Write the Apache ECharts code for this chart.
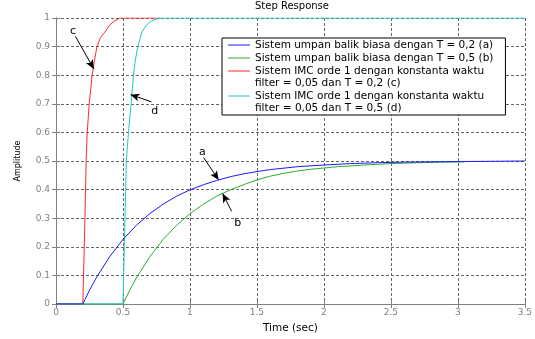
<!DOCTYPE html>
<html>
<head>
<meta charset="utf-8">
<script src="https://cdn.jsdelivr.net/npm/echarts@6/dist/echarts.min.js"></script>
<style>
html,body{margin:0;padding:0;background:#fff;}
#chart{width:535px;height:339px;}
</style>
</head>
<body>
<div id="chart"></div>
<script>
// ---- data ----
var nameA = 'Sistem umpan balik biasa dengan T = 0,2 (a)';
var nameB = 'Sistem umpan balik biasa dengan T = 0,5 (b)';
var nameC = 'Sistem IMC orde 1 dengan konstanta waktu\nfilter = 0,05 dan T = 0,2 (c)';
var nameD = 'Sistem IMC orde 1 dengan konstanta waktu\nfilter = 0,05 dan T = 0,5 (d)';

var timeA = [0, 0.2, 0.25, 0.3, 0.4, 0.5, 0.6, 0.7, 0.8, 0.9, 1.0, 1.1, 1.2, 1.3, 1.4, 1.5, 1.6, 1.8, 2.0, 2.2, 2.4, 2.6, 2.8, 3.0, 3.5];
var valA  = [0, 0, 0.048, 0.091, 0.165, 0.226, 0.275, 0.316, 0.349, 0.377, 0.399, 0.417, 0.432, 0.445, 0.455, 0.463, 0.470, 0.480, 0.486, 0.491, 0.494, 0.496, 0.497, 0.498, 0.5];

var timeB = [0, 0.5, 0.55, 0.6, 0.7, 0.8, 0.9, 1.0, 1.1, 1.2, 1.3, 1.4, 1.5, 1.6, 1.7, 1.8, 1.9, 2.1, 2.3, 2.5, 2.7, 2.9, 3.05];
var valB  = [0, 0, 0.048, 0.091, 0.165, 0.226, 0.275, 0.316, 0.349, 0.377, 0.399, 0.417, 0.434, 0.447, 0.457, 0.465, 0.471, 0.480, 0.486, 0.491, 0.494, 0.496, 0.497];

var timeC = [0, 0.2, 0.21, 0.22, 0.225, 0.233, 0.248, 0.27, 0.29, 0.306, 0.33, 0.364, 0.40, 0.438, 0.477, 0.78];
var valC  = [0, 0, 0.18, 0.38, 0.5, 0.6, 0.7, 0.8, 0.86, 0.9, 0.93, 0.95, 0.975, 0.99, 1.0, 1.0];

var timeD = [0, 0.5, 0.51, 0.52, 0.525, 0.541, 0.561, 0.578, 0.595, 0.611, 0.64, 0.675, 0.713, 0.76, 0.787, 3.5];
var valD  = [0, 0, 0.2, 0.4, 0.5, 0.6, 0.7, 0.8, 0.86, 0.9, 0.95, 0.975, 0.99, 0.998, 1.0, 1.0];

var xTicks = {min: 0, max: 3.5, interval: 0.5};
var yTicks = {min: 0, max: 1, interval: 0.1};

// annotations (data coordinates): letter, letter position, arrow start, arrow tip
var annLetters = ['a', 'b', 'c', 'd'];
var annText  = [[1.093, 0.531], [1.357, 0.281], [0.127, 0.953], [0.737, 0.674]];
var annStart = [[1.102, 0.512], [1.311, 0.324], [0.145, 0.936], [0.712, 0.707]];
var annTip   = [[1.214, 0.434], [1.244, 0.386], [0.282, 0.822], [0.557, 0.732]];

// ---- build chart ----
function pairs(t, v) { return t.map(function (x, i) { return [x, v[i]]; }); }

var FONT = 'DejaVu Sans';
var AXIS_GREY = '#808080';
var iconOne = 'path://M0,0H22V1H0Z';
var iconTwo = 'path://M0,0H22V1H0ZM0,13H0.01V13.01H0Z';

function lineSeries(name, data, color, z) {
  return {
    name: name, type: 'line', data: data, showSymbol: false, symbol: 'none',
    xAxisIndex: 0, yAxisIndex: 0, z: z,
    lineStyle: {color: color, width: 1}, itemStyle: {color: color},
    emphasis: {disabled: true}, animation: false
  };
}

var sA = lineSeries(nameA, pairs(timeA, valA), '#1a1aff', 5);
var sB = lineSeries(nameB, pairs(timeB, valB), '#2aae2a', 2);
var sC = lineSeries(nameC, pairs(timeC, valC), '#ff2a2a', 3);
var sD = lineSeries(nameD, pairs(timeD, valD), '#1ec8c8', 4);

sA.markLine = {
  silent: true, animation: false,
  symbol: ['none', 'arrow'], symbolSize: [6, 9],
  label: {show: false},
  lineStyle: {color: '#000', width: 1, type: 'solid'},
  data: annStart.map(function (s, i) { return [{coord: s}, {coord: annTip[i]}]; })
};
sA.markPoint = {
  silent: true, animation: false,
  symbol: 'circle', symbolSize: 0,
  itemStyle: {color: 'transparent'},
  label: {show: true, position: 'inside', formatter: '{b}', color: '#000', fontSize: 11, fontFamily: FONT},
  data: annText.map(function (p, i) { return {coord: p, name: annLetters[i], value: annLetters[i]}; })
};

var chart = echarts.init(document.getElementById('chart'), null, {renderer: 'canvas'});
chart.setOption({
  backgroundColor: '#fff',
  animation: false,
  title: {
    text: 'Step Response', left: 255, top: 1, padding: 0,
    textStyle: {fontSize: 10, fontWeight: 'normal', color: '#000', fontFamily: FONT}
  },
  legend: {
    orient: 'vertical', left: 222, top: 38,
    itemWidth: 22, itemHeight: 13, itemGap: 1,
    padding: [1, 12, 1, 6],
    borderColor: '#000', borderWidth: 1, backgroundColor: '#fff',
    selectedMode: false,
    textStyle: {fontSize: 10.5, color: '#000', lineHeight: 12, fontFamily: FONT},
    data: [
      {name: nameA, icon: iconOne},
      {name: nameB, icon: iconOne},
      {name: nameC, icon: iconTwo},
      {name: nameD, icon: iconTwo}
    ]
  },
  grid: {left: 56, right: 10, top: 18, bottom: 34, containLabel: false},
  xAxis: [{
    type: 'value', position: 'bottom', min: xTicks.min, max: xTicks.max, interval: xTicks.interval,
    axisLine: {lineStyle: {color: AXIS_GREY, width: 1}},
    axisTick: {inside: true, length: 4, lineStyle: {color: AXIS_GREY}},
    axisLabel: {color: AXIS_GREY, fontSize: 9, fontFamily: FONT, margin: 4},
    splitLine: {show: true, lineStyle: {type: [3, 2], color: '#666', width: 1}},
    name: 'Time (sec)', nameLocation: 'middle', nameGap: 19,
    nameTextStyle: {color: '#000', fontSize: 10.5, fontFamily: FONT}
  }, {
    type: 'value', position: 'top', min: xTicks.min, max: xTicks.max, interval: xTicks.interval,
    axisLine: {lineStyle: {color: AXIS_GREY, width: 1}},
    axisTick: {inside: true, length: 4, lineStyle: {color: AXIS_GREY}},
    axisLabel: {show: false}, splitLine: {show: false}
  }],
  yAxis: [{
    type: 'value', position: 'left', min: yTicks.min, max: yTicks.max, interval: yTicks.interval,
    axisLine: {show: true, lineStyle: {color: AXIS_GREY, width: 1}},
    axisTick: {show: true, inside: true, length: 4, lineStyle: {color: AXIS_GREY}},
    axisLabel: {color: AXIS_GREY, fontSize: 9, fontFamily: FONT, margin: 6},
    splitLine: {show: true, lineStyle: {type: [3, 2], color: '#666', width: 1}},
    name: 'Amplitude', nameLocation: 'middle', nameRotate: 90, nameGap: 34,
    nameTextStyle: {color: '#000', fontSize: 8, fontFamily: FONT}
  }, {
    type: 'value', position: 'right', min: yTicks.min, max: yTicks.max, interval: yTicks.interval,
    axisLine: {show: true, lineStyle: {color: AXIS_GREY, width: 1}},
    axisTick: {show: true, inside: true, length: 4, lineStyle: {color: AXIS_GREY}},
    axisLabel: {show: false}, splitLine: {show: false}
  }],
  series: [sB, sC, sD, sA]
});
</script>
</body>
</html>
